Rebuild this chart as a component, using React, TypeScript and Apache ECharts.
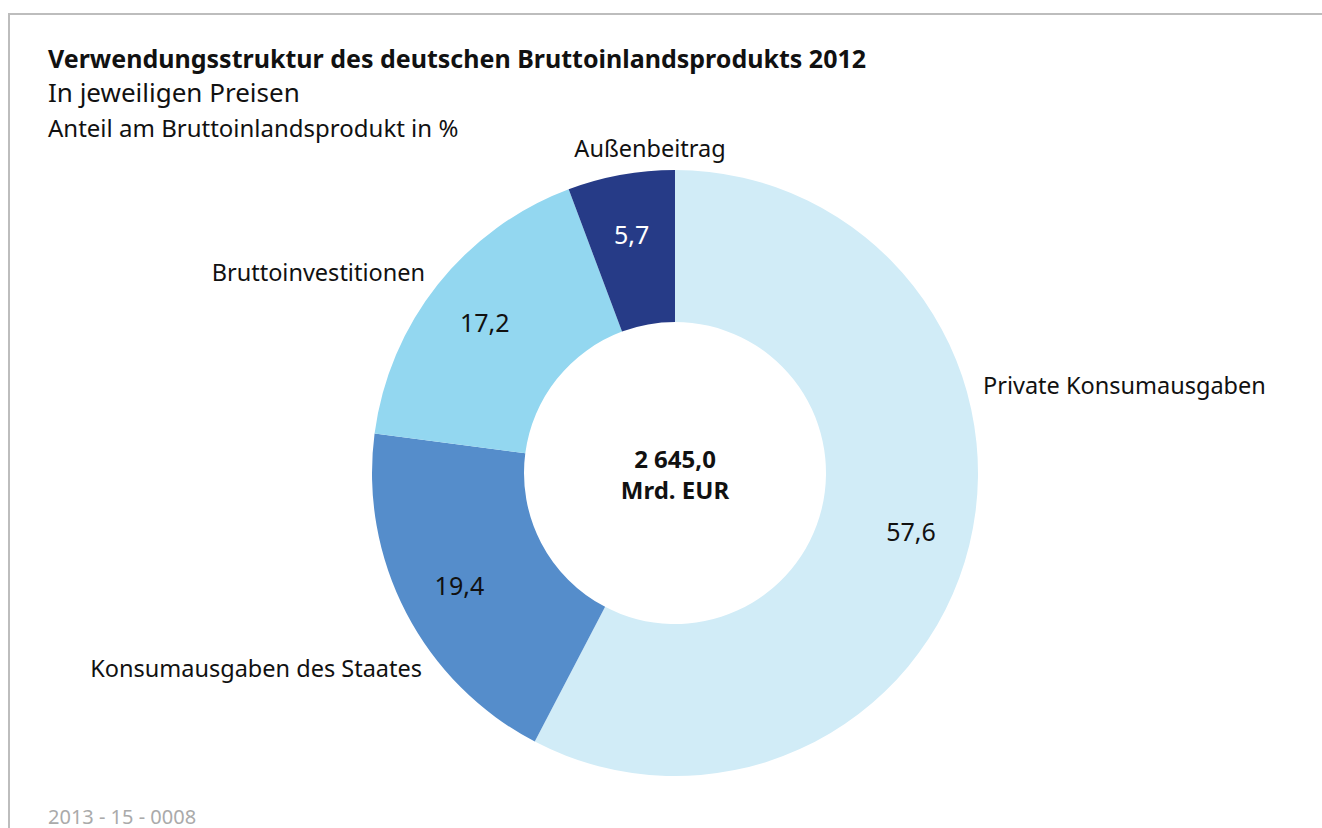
import React, { useEffect, useRef } from "react";
import * as echarts from "echarts";

const categories = [
  "Private Konsumausgaben",
  "Konsumausgaben des Staates",
  "Bruttoinvestitionen",
  "Außenbeitrag",
];
const values = [57.6, 19.4, 17.2, 5.7];
const colors = ["#d1ecf7", "#558dcb", "#93d7f0", "#263b87"];
const valueLabelColors = ["#111111", "#111111", "#111111", "#ffffff"];
const totalLines = ["2 645,0", "Mrd. EUR"];
const title = "Verwendungsstruktur des deutschen Bruttoinlandsprodukts 2012";
const subtitle1 = "In jeweiligen Preisen";
const subtitle2 = "Anteil am Bruttoinlandsprodukt in %";
const footer = "2013 - 15 - 0008";

// label anchor positions for category names (x, centerY, align)
const namePos: [number, number, string][] = [
  [983, 385, "left"],
  [422, 668, "right"],
  [425, 272, "right"],
  [650, 148, "center"],
];

const FONT = "'Noto Sans', 'Open Sans', sans-serif";
const fmt = (v: number) => v.toFixed(1).replace(".", ",");

export default function App() {
  const ref = useRef<HTMLDivElement>(null);
  useEffect(() => {
    const chart = echarts.init(ref.current!, null, { renderer: "svg" });
    const data = categories.map((c, i) => ({
      name: c,
      value: values[i],
      itemStyle: { color: colors[i] },
    }));
    chart.setOption({
      animation: false,
      backgroundColor: "#ffffff",
      graphic: [
        {
          type: "rect",
          shape: { x: 9, y: 14, width: 1330, height: 830 },
          style: { fill: "none", stroke: "#bdbdbd", lineWidth: 2 },
          silent: true,
        },
        {
          type: "text",
          x: 48,
          y: 58,
          style: {
            text: title,
            font: `bold 25px ${FONT}`,
            fill: "#111",
            verticalAlign: "middle",
          },
        },
        {
          type: "text",
          x: 48,
          y: 92,
          style: {
            text: subtitle1,
            font: `26px ${FONT}`,
            fill: "#111",
            verticalAlign: "middle",
          },
        },
        {
          type: "text",
          x: 48,
          y: 127,
          style: {
            text: subtitle2,
            font: `24px ${FONT}`,
            fill: "#111",
            verticalAlign: "middle",
          },
        },
        {
          type: "text",
          x: 48,
          y: 816,
          style: {
            text: footer,
            font: `20px ${FONT}`,
            fill: "#aaaaaa",
            verticalAlign: "middle",
          },
        },
        {
          type: "text",
          x: 675,
          y: 474,
          style: {
            text: totalLines.join("\n"),
            font: `bold 24px ${FONT}`,
            fill: "#111",
            align: "center",
            verticalAlign: "middle",
            lineHeight: 31,
          },
        },
        ...categories.map((c, i) => ({
          type: "text",
          x: namePos[i][0],
          y: namePos[i][1],
          style: {
            text: c,
            font: `23.5px ${FONT}`,
            fill: "#111",
            align: namePos[i][2],
            verticalAlign: "middle",
          },
        })),
      ],
      series: [
        {
          type: "pie",
          center: [675, 473],
          radius: [151, 303],
          startAngle: 90,
          clockwise: true,
          silent: true,
          label: { show: false },
          labelLine: { show: false },
          itemStyle: { borderWidth: 0 },
          data,
        },
        {
          type: "pie",
          center: [675, 473],
          radius: [177, 303],
          startAngle: 90,
          clockwise: true,
          silent: true,
          itemStyle: { color: "transparent", borderWidth: 0 },
          label: {
            show: true,
            position: "inside",
            fontFamily: FONT,
            fontSize: 25,
            formatter: (p: any) => fmt(p.value),
            color: "#111",
          },
          labelLine: { show: false },
          data: categories.map((c, i) => ({
            name: c,
            value: values[i],
            itemStyle: { color: "transparent" },
            label: { color: valueLabelColors[i] },
          })),
        },
      ],
    });
    return () => chart.dispose();
  }, []);
  return (
    <div
      ref={ref}
      style={{ position: "absolute", left: 0, top: 0, width: 1322, height: 828 }}
    />
  );
}
